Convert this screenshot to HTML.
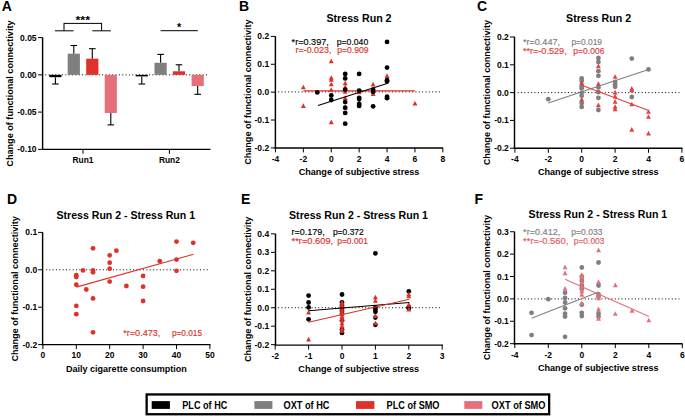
<!DOCTYPE html>
<html><head><meta charset="utf-8"><title>Figure</title>
<style>
html,body{margin:0;padding:0;background:#fff;}
body{width:685px;height:417px;overflow:hidden;font-family:"Liberation Sans", sans-serif;}
svg{display:block;}
text{font-family:"Liberation Sans", sans-serif;}
</style></head><body>
<svg width="685" height="417" viewBox="0 0 685 417">
<rect width="685" height="417" fill="#fff"/>
<g font-family="Liberation Sans, sans-serif">
<text x="1.8" y="10.8" font-size="14" font-weight="bold" text-anchor="start" fill="#000" >A</text>
<text x="239" y="10.8" font-size="14" font-weight="bold" text-anchor="start" fill="#000" >B</text>
<text x="476.9" y="10.8" font-size="14" font-weight="bold" text-anchor="start" fill="#000" >C</text>
<text x="6.9" y="204" font-size="14" font-weight="bold" text-anchor="start" fill="#000" >D</text>
<text x="241" y="204" font-size="14" font-weight="bold" text-anchor="start" fill="#000" >E</text>
<text x="474.5" y="204.3" font-size="14" font-weight="bold" text-anchor="start" fill="#000" >F</text>
<line x1="42.6" y1="37.47" x2="42.6" y2="150.07" stroke="#000" stroke-width="1.45" />
<line x1="38.1" y1="37.6" x2="42.6" y2="37.6" stroke="#000" stroke-width="1.0" />
<text x="36.6" y="40.6" font-size="8.5" font-weight="bold" text-anchor="end" fill="#000" >0.05</text>
<line x1="38.1" y1="74.85" x2="42.6" y2="74.85" stroke="#000" stroke-width="1.0" />
<text x="36.6" y="77.85" font-size="8.5" font-weight="bold" text-anchor="end" fill="#000" >0.00</text>
<line x1="38.1" y1="112.1" x2="42.6" y2="112.1" stroke="#000" stroke-width="1.0" />
<text x="36.6" y="115.1" font-size="8.5" font-weight="bold" text-anchor="end" fill="#000" >-0.05</text>
<line x1="38.1" y1="149.35" x2="42.6" y2="149.35" stroke="#000" stroke-width="1.0" />
<text x="36.6" y="152.35" font-size="8.5" font-weight="bold" text-anchor="end" fill="#000" >-0.10</text>
<line x1="41.88" y1="149.35" x2="210.5" y2="149.35" stroke="#000" stroke-width="1.45" />
<line x1="83" y1="149.35" x2="83" y2="153.85" stroke="#000" stroke-width="1.0" />
<line x1="169.4" y1="149.35" x2="169.4" y2="153.85" stroke="#000" stroke-width="1.0" />
<text x="83" y="163" font-size="8.4" font-weight="bold" text-anchor="middle" fill="#000" >Run1</text>
<text x="169.4" y="163" font-size="8.4" font-weight="bold" text-anchor="middle" fill="#000" >Run2</text>
<text transform="translate(12.5,93.6) rotate(-90)" x="0" y="0" font-size="9" font-weight="bold" text-anchor="middle" textLength="146.2" lengthAdjust="spacingAndGlyphs">Change of functional connectivity</text>
<line x1="45.2" y1="74.85" x2="207.5" y2="74.85" stroke="#000" stroke-width="1" stroke-dasharray="1 2.35"/>
<rect x="49.3" y="74.85" width="12.2" height="2.35" fill="#000"/>
<line x1="55.4" y1="77.2" x2="55.4" y2="84" stroke="#000" stroke-width="1.1" />
<line x1="52.1" y1="84" x2="58.7" y2="84" stroke="#000" stroke-width="1.1" />
<rect x="67.7" y="53.7" width="12.2" height="21.15" fill="#7f7f7f"/>
<line x1="73.8" y1="53.7" x2="73.8" y2="45.5" stroke="#000" stroke-width="1.1" />
<line x1="70.5" y1="45.5" x2="77.1" y2="45.5" stroke="#000" stroke-width="1.1" />
<rect x="86.2" y="58.7" width="12.2" height="16.15" fill="#de3129"/>
<line x1="92.3" y1="58.7" x2="92.3" y2="48.7" stroke="#000" stroke-width="1.1" />
<line x1="89" y1="48.7" x2="95.6" y2="48.7" stroke="#000" stroke-width="1.1" />
<rect x="104.7" y="74.85" width="12.2" height="38.15" fill="#e4707a"/>
<line x1="110.8" y1="113" x2="110.8" y2="124.9" stroke="#000" stroke-width="1.1" />
<line x1="107.5" y1="124.9" x2="114.1" y2="124.9" stroke="#000" stroke-width="1.1" />
<rect x="135.7" y="74.85" width="12.2" height="1.55" fill="#000"/>
<line x1="141.8" y1="76.4" x2="141.8" y2="84" stroke="#000" stroke-width="1.1" />
<line x1="138.5" y1="84" x2="145.1" y2="84" stroke="#000" stroke-width="1.1" />
<rect x="154.5" y="62.8" width="12.2" height="12.05" fill="#7f7f7f"/>
<line x1="160.6" y1="62.8" x2="160.6" y2="54.4" stroke="#000" stroke-width="1.1" />
<line x1="157.3" y1="54.4" x2="163.9" y2="54.4" stroke="#000" stroke-width="1.1" />
<rect x="172.9" y="71.3" width="12.2" height="3.55" fill="#de3129"/>
<line x1="179" y1="71.3" x2="179" y2="64.8" stroke="#000" stroke-width="1.1" />
<line x1="175.7" y1="64.8" x2="182.3" y2="64.8" stroke="#000" stroke-width="1.1" />
<rect x="191.6" y="74.85" width="12.2" height="11.15" fill="#e4707a"/>
<line x1="197.7" y1="86" x2="197.7" y2="94.3" stroke="#000" stroke-width="1.1" />
<line x1="194.4" y1="94.3" x2="201" y2="94.3" stroke="#000" stroke-width="1.1" />
<line x1="64" y1="23.4" x2="101.6" y2="23.4" stroke="#000" stroke-width="1.0" />
<line x1="64" y1="22.9" x2="64" y2="30.8" stroke="#000" stroke-width="1.0" />
<line x1="101.6" y1="22.9" x2="101.6" y2="30.8" stroke="#000" stroke-width="1.0" />
<line x1="54.9" y1="30.8" x2="73.6" y2="30.8" stroke="#000" stroke-width="1.0" />
<line x1="92.3" y1="30.8" x2="110.8" y2="30.8" stroke="#000" stroke-width="1.0" />
<text x="82.8" y="24.4" font-size="11" font-weight="bold" text-anchor="middle" fill="#000" textLength="14.6" lengthAdjust="spacingAndGlyphs" >***</text>
<line x1="160.6" y1="30.7" x2="197.8" y2="30.7" stroke="#000" stroke-width="1.0" />
<text x="179.2" y="31" font-size="11" font-weight="bold" text-anchor="middle" fill="#000" >*</text>
<line x1="278.1" y1="91.9" x2="440.3" y2="91.9" stroke="#000" stroke-width="1" stroke-dasharray="1 2.35"/>
<line x1="275.4" y1="36.28" x2="275.4" y2="148.62" stroke="#000" stroke-width="1.45" />
<line x1="270.9" y1="36.4" x2="275.4" y2="36.4" stroke="#000" stroke-width="1.0" />
<text x="269.2" y="39.4" font-size="8.5" font-weight="bold" text-anchor="end" fill="#000" >0.2</text>
<line x1="270.9" y1="64.28" x2="275.4" y2="64.28" stroke="#000" stroke-width="1.0" />
<text x="269.2" y="67.28" font-size="8.5" font-weight="bold" text-anchor="end" fill="#000" >0.1</text>
<line x1="270.9" y1="92.15" x2="275.4" y2="92.15" stroke="#000" stroke-width="1.0" />
<text x="269.2" y="95.15" font-size="8.5" font-weight="bold" text-anchor="end" fill="#000" >0.0</text>
<line x1="270.9" y1="120.03" x2="275.4" y2="120.03" stroke="#000" stroke-width="1.0" />
<text x="269.2" y="123.03" font-size="8.5" font-weight="bold" text-anchor="end" fill="#000" >-0.1</text>
<line x1="270.9" y1="147.9" x2="275.4" y2="147.9" stroke="#000" stroke-width="1.0" />
<text x="269.2" y="150.9" font-size="8.5" font-weight="bold" text-anchor="end" fill="#000" >-0.2</text>
<line x1="274.67" y1="147.9" x2="443" y2="147.9" stroke="#000" stroke-width="1.45" />
<line x1="275.45" y1="147.9" x2="275.45" y2="152.4" stroke="#000" stroke-width="1.0" />
<text x="275.45" y="162.4" font-size="8.5" font-weight="bold" text-anchor="middle" fill="#000" >-4</text>
<line x1="303.35" y1="147.9" x2="303.35" y2="152.4" stroke="#000" stroke-width="1.0" />
<text x="303.35" y="162.4" font-size="8.5" font-weight="bold" text-anchor="middle" fill="#000" >-2</text>
<line x1="331.25" y1="147.9" x2="331.25" y2="152.4" stroke="#000" stroke-width="1.0" />
<text x="331.25" y="162.4" font-size="8.5" font-weight="bold" text-anchor="middle" fill="#000" >0</text>
<line x1="359.15" y1="147.9" x2="359.15" y2="152.4" stroke="#000" stroke-width="1.0" />
<text x="359.15" y="162.4" font-size="8.5" font-weight="bold" text-anchor="middle" fill="#000" >2</text>
<line x1="387.05" y1="147.9" x2="387.05" y2="152.4" stroke="#000" stroke-width="1.0" />
<text x="387.05" y="162.4" font-size="8.5" font-weight="bold" text-anchor="middle" fill="#000" >4</text>
<line x1="414.95" y1="147.9" x2="414.95" y2="152.4" stroke="#000" stroke-width="1.0" />
<text x="414.95" y="162.4" font-size="8.5" font-weight="bold" text-anchor="middle" fill="#000" >6</text>
<line x1="442.85" y1="147.9" x2="442.85" y2="152.4" stroke="#000" stroke-width="1.0" />
<text x="442.85" y="162.4" font-size="8.5" font-weight="bold" text-anchor="middle" fill="#000" >8</text>
<text transform="translate(250.9,92.1) rotate(-90)" x="0" y="0" font-size="9" font-weight="bold" text-anchor="middle" textLength="145.4" lengthAdjust="spacingAndGlyphs">Change of functional connectivity</text>
<text x="359" y="175.3" font-size="9.3" font-weight="bold" text-anchor="middle" fill="#000" textLength="120.7" lengthAdjust="spacingAndGlyphs" >Change of subjective stress</text>
<text x="359" y="22" font-size="10.5" font-weight="bold" text-anchor="middle" fill="#000" textLength="65.1" lengthAdjust="spacingAndGlyphs" >Stress Run 2</text>
<text x="291.6" y="44.5" font-size="8.2" font-weight="normal" text-anchor="start" fill="#000" textLength="37.2" lengthAdjust="spacingAndGlyphs"  stroke="#000" stroke-width="0.15">*r=0.397,</text>
<text x="336.8" y="44.5" font-size="8.2" font-weight="normal" text-anchor="start" fill="#000" textLength="31.4" lengthAdjust="spacingAndGlyphs"  stroke="#000" stroke-width="0.15">p=0.040</text>
<text x="295.5" y="53.4" font-size="8.2" font-weight="normal" text-anchor="start" fill="#de3129" textLength="35.9" lengthAdjust="spacingAndGlyphs"  stroke="#de3129" stroke-width="0.15">r=-0.023,</text>
<text x="337.3" y="53.4" font-size="8.2" font-weight="normal" text-anchor="start" fill="#de3129" textLength="31.2" lengthAdjust="spacingAndGlyphs"  stroke="#de3129" stroke-width="0.15">p=0.909</text>
<line x1="303.35" y1="90.9" x2="414.95" y2="90.9" stroke="#de3129" stroke-width="1.1" />
<path d="M300.9 89.35L303.35 84.65L305.8 89.35Z" fill="#de3129"/>
<path d="M300.9 108.05L303.35 103.35L305.8 108.05Z" fill="#de3129"/>
<path d="M328.8 63.15L331.25 58.45L333.7 63.15Z" fill="#de3129"/>
<path d="M328.8 79.85L331.25 75.15L333.7 79.85Z" fill="#de3129"/>
<path d="M328.8 81.65L331.25 76.95L333.7 81.65Z" fill="#de3129"/>
<path d="M328.8 86.15L331.25 81.45L333.7 86.15Z" fill="#de3129"/>
<path d="M328.8 91.85L331.25 87.15L333.7 91.85Z" fill="#de3129"/>
<path d="M328.8 124.25L331.25 119.55L333.7 124.25Z" fill="#de3129"/>
<path d="M342.75 85.25L345.2 80.55L347.65 85.25Z" fill="#de3129"/>
<path d="M342.75 89.15L345.2 84.45L347.65 89.15Z" fill="#de3129"/>
<path d="M342.75 99.95L345.2 95.25L347.65 99.95Z" fill="#de3129"/>
<path d="M342.75 109.55L345.2 104.85L347.65 109.55Z" fill="#de3129"/>
<path d="M356.7 94.25L359.15 89.55L361.6 94.25Z" fill="#de3129"/>
<path d="M356.7 104.45L359.15 99.75L361.6 104.45Z" fill="#de3129"/>
<path d="M370.65 86.45L373.1 81.75L375.55 86.45Z" fill="#de3129"/>
<path d="M370.65 96.05L373.1 91.35L375.55 96.05Z" fill="#de3129"/>
<path d="M384.6 78.05L387.05 73.35L389.5 78.05Z" fill="#de3129"/>
<path d="M412.5 105.55L414.95 100.85L417.4 105.55Z" fill="#de3129"/>
<path d="M342.75 93.85L345.2 89.15L347.65 93.85Z" fill="#de3129"/>
<circle cx="317.3" cy="92.4" r="2.4" fill="#000"/>
<circle cx="331.25" cy="95.5" r="2.4" fill="#000"/>
<circle cx="331.25" cy="100" r="2.4" fill="#000"/>
<circle cx="345.2" cy="73.9" r="2.4" fill="#000"/>
<circle cx="345.2" cy="78.4" r="2.4" fill="#000"/>
<circle cx="345.2" cy="89.7" r="2.4" fill="#000"/>
<circle cx="345.2" cy="102.1" r="2.4" fill="#000"/>
<circle cx="345.2" cy="107.7" r="2.4" fill="#000"/>
<circle cx="345.2" cy="112.9" r="2.4" fill="#000"/>
<circle cx="345.2" cy="123.7" r="2.4" fill="#000"/>
<circle cx="359.15" cy="73.9" r="2.4" fill="#000"/>
<circle cx="359.15" cy="90.6" r="2.4" fill="#000"/>
<circle cx="359.15" cy="97.8" r="2.4" fill="#000"/>
<circle cx="359.15" cy="99" r="2.4" fill="#000"/>
<circle cx="359.15" cy="103.9" r="2.4" fill="#000"/>
<circle cx="359.15" cy="105.9" r="2.4" fill="#000"/>
<circle cx="373.1" cy="89.7" r="2.4" fill="#000"/>
<circle cx="373.1" cy="91.9" r="2.4" fill="#000"/>
<circle cx="373.1" cy="106.3" r="2.4" fill="#000"/>
<circle cx="387.05" cy="41.9" r="2.4" fill="#000"/>
<circle cx="387.05" cy="67.6" r="2.4" fill="#000"/>
<circle cx="387.05" cy="80.2" r="2.4" fill="#000"/>
<circle cx="387.05" cy="81.6" r="2.4" fill="#000"/>
<circle cx="387.05" cy="96.7" r="2.4" fill="#000"/>
<circle cx="387.05" cy="98.2" r="2.4" fill="#000"/>
<line x1="318" y1="105.4" x2="387.1" y2="83.4" stroke="#000" stroke-width="1.1" />
<line x1="517.7" y1="92.6" x2="679.4" y2="92.6" stroke="#000" stroke-width="1" stroke-dasharray="1 2.35"/>
<line x1="514.5" y1="36.85" x2="514.5" y2="148.94" stroke="#000" stroke-width="1.45" />
<line x1="510" y1="36.98" x2="514.5" y2="36.98" stroke="#000" stroke-width="1.0" />
<text x="508.8" y="39.98" font-size="8.5" font-weight="bold" text-anchor="end" fill="#000" >0.2</text>
<line x1="510" y1="64.79" x2="514.5" y2="64.79" stroke="#000" stroke-width="1.0" />
<text x="508.8" y="67.79" font-size="8.5" font-weight="bold" text-anchor="end" fill="#000" >0.1</text>
<line x1="510" y1="92.6" x2="514.5" y2="92.6" stroke="#000" stroke-width="1.0" />
<text x="508.8" y="95.6" font-size="8.5" font-weight="bold" text-anchor="end" fill="#000" >0.0</text>
<line x1="510" y1="120.41" x2="514.5" y2="120.41" stroke="#000" stroke-width="1.0" />
<text x="508.8" y="123.41" font-size="8.5" font-weight="bold" text-anchor="end" fill="#000" >-0.1</text>
<line x1="510" y1="148.22" x2="514.5" y2="148.22" stroke="#000" stroke-width="1.0" />
<text x="508.8" y="151.22" font-size="8.5" font-weight="bold" text-anchor="end" fill="#000" >-0.2</text>
<line x1="513.77" y1="148.22" x2="682.5" y2="148.22" stroke="#000" stroke-width="1.45" />
<line x1="514.9" y1="148.22" x2="514.9" y2="152.72" stroke="#000" stroke-width="1.0" />
<text x="514.9" y="162.4" font-size="8.5" font-weight="bold" text-anchor="middle" fill="#000" >-4</text>
<line x1="548.3" y1="148.22" x2="548.3" y2="152.72" stroke="#000" stroke-width="1.0" />
<text x="548.3" y="162.4" font-size="8.5" font-weight="bold" text-anchor="middle" fill="#000" >-2</text>
<line x1="581.7" y1="148.22" x2="581.7" y2="152.72" stroke="#000" stroke-width="1.0" />
<text x="581.7" y="162.4" font-size="8.5" font-weight="bold" text-anchor="middle" fill="#000" >0</text>
<line x1="615.1" y1="148.22" x2="615.1" y2="152.72" stroke="#000" stroke-width="1.0" />
<text x="615.1" y="162.4" font-size="8.5" font-weight="bold" text-anchor="middle" fill="#000" >2</text>
<line x1="648.5" y1="148.22" x2="648.5" y2="152.72" stroke="#000" stroke-width="1.0" />
<text x="648.5" y="162.4" font-size="8.5" font-weight="bold" text-anchor="middle" fill="#000" >4</text>
<line x1="681.9" y1="148.22" x2="681.9" y2="152.72" stroke="#000" stroke-width="1.0" />
<text x="681.9" y="162.4" font-size="8.5" font-weight="bold" text-anchor="middle" fill="#000" >6</text>
<text transform="translate(489.9,92.6) rotate(-90)" x="0" y="0" font-size="9" font-weight="bold" text-anchor="middle" textLength="145.4" lengthAdjust="spacingAndGlyphs">Change of functional connectivity</text>
<text x="598.3" y="175.4" font-size="9.3" font-weight="bold" text-anchor="middle" fill="#000" textLength="120.7" lengthAdjust="spacingAndGlyphs" >Change of subjective stress</text>
<text x="598.6" y="22" font-size="10.5" font-weight="bold" text-anchor="middle" fill="#000" textLength="65.1" lengthAdjust="spacingAndGlyphs" >Stress Run 2</text>
<text x="522.9" y="44.8" font-size="8.2" font-weight="normal" text-anchor="start" fill="#7f7f7f" textLength="37.2" lengthAdjust="spacingAndGlyphs"  stroke="#7f7f7f" stroke-width="0.15">*r=0.447,</text>
<text x="571.4" y="44.8" font-size="8.2" font-weight="normal" text-anchor="start" fill="#7f7f7f" textLength="30.6" lengthAdjust="spacingAndGlyphs"  stroke="#7f7f7f" stroke-width="0.15">p=0.019</text>
<text x="522.9" y="53.9" font-size="8.2" font-weight="normal" text-anchor="start" fill="#e0403e" textLength="43.8" lengthAdjust="spacingAndGlyphs"  stroke="#e0403e" stroke-width="0.15">**r=-0.529,</text>
<text x="573.3" y="53.9" font-size="8.2" font-weight="normal" text-anchor="start" fill="#e0403e" textLength="31.1" lengthAdjust="spacingAndGlyphs"  stroke="#e0403e" stroke-width="0.15">p=0.006</text>
<circle cx="548.3" cy="99.2" r="2.4" fill="#7f7f7f"/>
<circle cx="581.7" cy="78.5" r="2.4" fill="#7f7f7f"/>
<circle cx="581.7" cy="81" r="2.4" fill="#7f7f7f"/>
<circle cx="581.7" cy="86.2" r="2.4" fill="#7f7f7f"/>
<circle cx="581.7" cy="88.2" r="2.4" fill="#7f7f7f"/>
<circle cx="581.7" cy="92.6" r="2.4" fill="#7f7f7f"/>
<circle cx="581.7" cy="95.8" r="2.4" fill="#7f7f7f"/>
<circle cx="581.7" cy="103" r="2.4" fill="#7f7f7f"/>
<circle cx="581.7" cy="106.9" r="2.4" fill="#7f7f7f"/>
<circle cx="598.4" cy="58" r="2.4" fill="#7f7f7f"/>
<circle cx="598.4" cy="62" r="2.4" fill="#7f7f7f"/>
<circle cx="598.4" cy="71.2" r="2.4" fill="#7f7f7f"/>
<circle cx="598.4" cy="75.8" r="2.4" fill="#7f7f7f"/>
<circle cx="598.4" cy="87.4" r="2.4" fill="#7f7f7f"/>
<circle cx="598.4" cy="92.2" r="2.4" fill="#7f7f7f"/>
<circle cx="598.4" cy="97.8" r="2.4" fill="#7f7f7f"/>
<circle cx="598.4" cy="110" r="2.4" fill="#7f7f7f"/>
<circle cx="615.1" cy="81.8" r="2.4" fill="#7f7f7f"/>
<circle cx="615.1" cy="84.3" r="2.4" fill="#7f7f7f"/>
<circle cx="615.1" cy="86.8" r="2.4" fill="#7f7f7f"/>
<circle cx="631.8" cy="58.6" r="2.4" fill="#7f7f7f"/>
<circle cx="631.8" cy="97" r="2.4" fill="#7f7f7f"/>
<circle cx="648.5" cy="69.4" r="2.4" fill="#7f7f7f"/>
<path d="M579.25 85.05L581.7 80.35L584.15 85.05Z" fill="#e0403e"/>
<path d="M579.25 101.45L581.7 96.75L584.15 101.45Z" fill="#e0403e"/>
<path d="M595.95 68.15L598.4 63.45L600.85 68.15Z" fill="#e0403e"/>
<path d="M595.95 85.85L598.4 81.15L600.85 85.85Z" fill="#e0403e"/>
<path d="M595.95 107.15L598.4 102.45L600.85 107.15Z" fill="#e0403e"/>
<path d="M612.65 78.85L615.1 74.15L617.55 78.85Z" fill="#e0403e"/>
<path d="M612.65 94.45L615.1 89.75L617.55 94.45Z" fill="#e0403e"/>
<path d="M612.65 98.55L615.1 93.85L617.55 98.55Z" fill="#e0403e"/>
<path d="M612.65 103.75L615.1 99.05L617.55 103.75Z" fill="#e0403e"/>
<path d="M612.65 108.85L615.1 104.15L617.55 108.85Z" fill="#e0403e"/>
<path d="M612.65 111.25L615.1 106.55L617.55 111.25Z" fill="#e0403e"/>
<path d="M629.35 90.75L631.8 86.05L634.25 90.75Z" fill="#e0403e"/>
<path d="M629.35 92.25L631.8 87.55L634.25 92.25Z" fill="#e0403e"/>
<path d="M629.35 106.35L631.8 101.65L634.25 106.35Z" fill="#e0403e"/>
<path d="M629.35 131.75L631.8 127.05L634.25 131.75Z" fill="#e0403e"/>
<path d="M646.05 113.85L648.5 109.15L650.95 113.85Z" fill="#e0403e"/>
<path d="M646.05 118.85L648.5 114.15L650.95 118.85Z" fill="#e0403e"/>
<path d="M646.05 135.45L648.5 130.75L650.95 135.45Z" fill="#e0403e"/>
<line x1="548.2" y1="102.9" x2="648.6" y2="69.4" stroke="#7f7f7f" stroke-width="1.1" />
<line x1="581.7" y1="85.2" x2="648.6" y2="110.4" stroke="#e0403e" stroke-width="1.1" />
<line x1="45.9" y1="269.8" x2="207.8" y2="269.8" stroke="#000" stroke-width="1" stroke-dasharray="1 2.35"/>
<line x1="42.6" y1="232.28" x2="42.6" y2="345.33" stroke="#000" stroke-width="1.45" />
<line x1="38.1" y1="232.4" x2="42.6" y2="232.4" stroke="#000" stroke-width="1.0" />
<text x="37.2" y="235.4" font-size="8.5" font-weight="bold" text-anchor="end" fill="#000" >0.1</text>
<line x1="38.1" y1="269.8" x2="42.6" y2="269.8" stroke="#000" stroke-width="1.0" />
<text x="37.2" y="272.8" font-size="8.5" font-weight="bold" text-anchor="end" fill="#000" >0.0</text>
<line x1="38.1" y1="307.2" x2="42.6" y2="307.2" stroke="#000" stroke-width="1.0" />
<text x="37.2" y="310.2" font-size="8.5" font-weight="bold" text-anchor="end" fill="#000" >-0.1</text>
<line x1="38.1" y1="344.6" x2="42.6" y2="344.6" stroke="#000" stroke-width="1.0" />
<text x="37.2" y="347.6" font-size="8.5" font-weight="bold" text-anchor="end" fill="#000" >-0.2</text>
<line x1="41.88" y1="344.6" x2="210.5" y2="344.6" stroke="#000" stroke-width="1.45" />
<line x1="42.9" y1="344.6" x2="42.9" y2="349.1" stroke="#000" stroke-width="1.0" />
<text x="42.9" y="358.4" font-size="8.5" font-weight="bold" text-anchor="middle" fill="#000" >0</text>
<line x1="76.3" y1="344.6" x2="76.3" y2="349.1" stroke="#000" stroke-width="1.0" />
<text x="76.3" y="358.4" font-size="8.5" font-weight="bold" text-anchor="middle" fill="#000" >10</text>
<line x1="109.7" y1="344.6" x2="109.7" y2="349.1" stroke="#000" stroke-width="1.0" />
<text x="109.7" y="358.4" font-size="8.5" font-weight="bold" text-anchor="middle" fill="#000" >20</text>
<line x1="143.1" y1="344.6" x2="143.1" y2="349.1" stroke="#000" stroke-width="1.0" />
<text x="143.1" y="358.4" font-size="8.5" font-weight="bold" text-anchor="middle" fill="#000" >30</text>
<line x1="176.5" y1="344.6" x2="176.5" y2="349.1" stroke="#000" stroke-width="1.0" />
<text x="176.5" y="358.4" font-size="8.5" font-weight="bold" text-anchor="middle" fill="#000" >40</text>
<line x1="209.9" y1="344.6" x2="209.9" y2="349.1" stroke="#000" stroke-width="1.0" />
<text x="209.9" y="358.4" font-size="8.5" font-weight="bold" text-anchor="middle" fill="#000" >50</text>
<text transform="translate(18.3,288.9) rotate(-90)" x="0" y="0" font-size="9" font-weight="bold" text-anchor="middle" textLength="145.4" lengthAdjust="spacingAndGlyphs">Change of functional connectivity</text>
<text x="126.4" y="371.7" font-size="9.3" font-weight="bold" text-anchor="middle" fill="#000" textLength="120.8" lengthAdjust="spacingAndGlyphs" >Daily cigarette consumption</text>
<text x="125.8" y="218.6" font-size="10.5" font-weight="bold" text-anchor="middle" fill="#000" textLength="138.6" lengthAdjust="spacingAndGlyphs" >Stress Run 2 - Stress Run 1</text>
<text x="123.3" y="335.8" font-size="8.6" font-weight="normal" text-anchor="start" fill="#de3129" textLength="37" lengthAdjust="spacingAndGlyphs"  stroke="#de3129" stroke-width="0.15">*r=0.473,</text>
<text x="171.9" y="335.8" font-size="8.6" font-weight="normal" text-anchor="start" fill="#de3129" textLength="30.2" lengthAdjust="spacingAndGlyphs"  stroke="#de3129" stroke-width="0.15">p=0.015</text>
<circle cx="76.3" cy="275.2" r="2.4" fill="#de3129"/>
<circle cx="76.3" cy="277.1" r="2.4" fill="#de3129"/>
<circle cx="76.3" cy="284.7" r="2.4" fill="#de3129"/>
<circle cx="76.3" cy="305.9" r="2.4" fill="#de3129"/>
<circle cx="76.3" cy="314.2" r="2.4" fill="#de3129"/>
<circle cx="82.98" cy="270.4" r="2.4" fill="#de3129"/>
<circle cx="86.32" cy="289.5" r="2.4" fill="#de3129"/>
<circle cx="93" cy="248.3" r="2.4" fill="#de3129"/>
<circle cx="93" cy="270.4" r="2.4" fill="#de3129"/>
<circle cx="93" cy="272.3" r="2.4" fill="#de3129"/>
<circle cx="93" cy="298.4" r="2.4" fill="#de3129"/>
<circle cx="93" cy="332.3" r="2.4" fill="#de3129"/>
<circle cx="109.7" cy="255.3" r="2.4" fill="#de3129"/>
<circle cx="109.7" cy="262.7" r="2.4" fill="#de3129"/>
<circle cx="109.7" cy="268.7" r="2.4" fill="#de3129"/>
<circle cx="109.7" cy="281.6" r="2.4" fill="#de3129"/>
<circle cx="116.38" cy="250.7" r="2.4" fill="#de3129"/>
<circle cx="126.4" cy="286" r="2.4" fill="#de3129"/>
<circle cx="143.1" cy="275.9" r="2.4" fill="#de3129"/>
<circle cx="143.1" cy="286.7" r="2.4" fill="#de3129"/>
<circle cx="143.1" cy="301" r="2.4" fill="#de3129"/>
<circle cx="159.8" cy="261.2" r="2.4" fill="#de3129"/>
<circle cx="176.5" cy="241.6" r="2.4" fill="#de3129"/>
<circle cx="176.5" cy="259.6" r="2.4" fill="#de3129"/>
<circle cx="176.5" cy="270.8" r="2.4" fill="#de3129"/>
<circle cx="193.2" cy="242.8" r="2.4" fill="#de3129"/>
<line x1="76.3" y1="287.1" x2="193.6" y2="254.3" stroke="#de3129" stroke-width="1.1" />
<line x1="278.1" y1="307.74" x2="440.3" y2="307.74" stroke="#000" stroke-width="1" stroke-dasharray="1 2.35"/>
<line x1="275.5" y1="233.75" x2="275.5" y2="345.4" stroke="#000" stroke-width="1.45" />
<line x1="271" y1="233.87" x2="275.5" y2="233.87" stroke="#000" stroke-width="1.0" />
<text x="269.2" y="236.87" font-size="8.5" font-weight="bold" text-anchor="end" fill="#000" >0.4</text>
<line x1="271" y1="252.34" x2="275.5" y2="252.34" stroke="#000" stroke-width="1.0" />
<text x="269.2" y="255.34" font-size="8.5" font-weight="bold" text-anchor="end" fill="#000" >0.3</text>
<line x1="271" y1="270.81" x2="275.5" y2="270.81" stroke="#000" stroke-width="1.0" />
<text x="269.2" y="273.81" font-size="8.5" font-weight="bold" text-anchor="end" fill="#000" >0.2</text>
<line x1="271" y1="289.27" x2="275.5" y2="289.27" stroke="#000" stroke-width="1.0" />
<text x="269.2" y="292.27" font-size="8.5" font-weight="bold" text-anchor="end" fill="#000" >0.1</text>
<line x1="271" y1="307.74" x2="275.5" y2="307.74" stroke="#000" stroke-width="1.0" />
<text x="269.2" y="310.74" font-size="8.5" font-weight="bold" text-anchor="end" fill="#000" >0.0</text>
<line x1="271" y1="326.21" x2="275.5" y2="326.21" stroke="#000" stroke-width="1.0" />
<text x="269.2" y="329.21" font-size="8.5" font-weight="bold" text-anchor="end" fill="#000" >-0.1</text>
<line x1="271" y1="344.67" x2="275.5" y2="344.67" stroke="#000" stroke-width="1.0" />
<text x="269.2" y="347.67" font-size="8.5" font-weight="bold" text-anchor="end" fill="#000" >-0.2</text>
<line x1="274.77" y1="345.1" x2="443" y2="345.1" stroke="#000" stroke-width="1.45" />
<line x1="275.2" y1="345.1" x2="275.2" y2="349.6" stroke="#000" stroke-width="1.0" />
<text x="275.2" y="359.3" font-size="8.5" font-weight="bold" text-anchor="middle" fill="#000" >-2</text>
<line x1="308.6" y1="345.1" x2="308.6" y2="349.6" stroke="#000" stroke-width="1.0" />
<text x="308.6" y="359.3" font-size="8.5" font-weight="bold" text-anchor="middle" fill="#000" >-1</text>
<line x1="342" y1="345.1" x2="342" y2="349.6" stroke="#000" stroke-width="1.0" />
<text x="342" y="359.3" font-size="8.5" font-weight="bold" text-anchor="middle" fill="#000" >0</text>
<line x1="375.4" y1="345.1" x2="375.4" y2="349.6" stroke="#000" stroke-width="1.0" />
<text x="375.4" y="359.3" font-size="8.5" font-weight="bold" text-anchor="middle" fill="#000" >1</text>
<line x1="408.8" y1="345.1" x2="408.8" y2="349.6" stroke="#000" stroke-width="1.0" />
<text x="408.8" y="359.3" font-size="8.5" font-weight="bold" text-anchor="middle" fill="#000" >2</text>
<line x1="442.2" y1="345.1" x2="442.2" y2="349.6" stroke="#000" stroke-width="1.0" />
<text x="442.2" y="359.3" font-size="8.5" font-weight="bold" text-anchor="middle" fill="#000" >3</text>
<text transform="translate(251.1,289.3) rotate(-90)" x="0" y="0" font-size="9" font-weight="bold" text-anchor="middle" textLength="145.4" lengthAdjust="spacingAndGlyphs">Change of functional connectivity</text>
<text x="358.7" y="372.4" font-size="9.3" font-weight="bold" text-anchor="middle" fill="#000" textLength="120.7" lengthAdjust="spacingAndGlyphs" >Change of subjective stress</text>
<text x="358.5" y="219" font-size="10.5" font-weight="bold" text-anchor="middle" fill="#000" textLength="138.9" lengthAdjust="spacingAndGlyphs" >Stress Run 2 - Stress Run 1</text>
<text x="291.6" y="234.6" font-size="8.2" font-weight="normal" text-anchor="start" fill="#000" textLength="33.1" lengthAdjust="spacingAndGlyphs"  stroke="#000" stroke-width="0.15">r=0.179,</text>
<text x="332.9" y="234.6" font-size="8.2" font-weight="normal" text-anchor="start" fill="#000" textLength="30.9" lengthAdjust="spacingAndGlyphs"  stroke="#000" stroke-width="0.15">p=0.372</text>
<text x="291.6" y="243.9" font-size="8.2" font-weight="normal" text-anchor="start" fill="#de3129" textLength="41.6" lengthAdjust="spacingAndGlyphs"  stroke="#de3129" stroke-width="0.15">**r=0.609,</text>
<text x="337.3" y="243.9" font-size="8.2" font-weight="normal" text-anchor="start" fill="#de3129" textLength="30.6" lengthAdjust="spacingAndGlyphs"  stroke="#de3129" stroke-width="0.15">p=0.001</text>
<circle cx="308.6" cy="295.6" r="2.4" fill="#000"/>
<circle cx="308.6" cy="302.5" r="2.4" fill="#000"/>
<circle cx="308.6" cy="307.4" r="2.4" fill="#000"/>
<circle cx="308.6" cy="319.3" r="2.4" fill="#000"/>
<circle cx="342" cy="294.5" r="2.4" fill="#000"/>
<circle cx="342" cy="302.4" r="2.4" fill="#000"/>
<circle cx="342" cy="305.7" r="2.4" fill="#000"/>
<circle cx="342" cy="307.9" r="2.4" fill="#000"/>
<circle cx="342" cy="310.7" r="2.4" fill="#000"/>
<circle cx="342" cy="313.7" r="2.4" fill="#000"/>
<circle cx="342" cy="320.5" r="2.4" fill="#000"/>
<circle cx="342" cy="329.5" r="2.4" fill="#000"/>
<circle cx="342" cy="332.9" r="2.4" fill="#000"/>
<circle cx="375.4" cy="253.3" r="2.4" fill="#000"/>
<circle cx="375.4" cy="307.3" r="2.4" fill="#000"/>
<circle cx="375.4" cy="309.5" r="2.4" fill="#000"/>
<circle cx="375.4" cy="311.8" r="2.4" fill="#000"/>
<circle cx="375.4" cy="317.6" r="2.4" fill="#000"/>
<circle cx="375.4" cy="324.8" r="2.4" fill="#000"/>
<circle cx="408.8" cy="291.3" r="2.4" fill="#000"/>
<circle cx="408.8" cy="307.2" r="2.4" fill="#000"/>
<circle cx="408.8" cy="308.4" r="2.4" fill="#000"/>
<path d="M306.15 314.55L308.6 309.85L311.05 314.55Z" fill="#de3129"/>
<path d="M306.15 341.55L308.6 336.85L311.05 341.55Z" fill="#de3129"/>
<path d="M339.55 304.75L342 300.05L344.45 304.75Z" fill="#de3129"/>
<path d="M339.55 307.25L342 302.55L344.45 307.25Z" fill="#de3129"/>
<path d="M339.55 309.55L342 304.85L344.45 309.55Z" fill="#de3129"/>
<path d="M339.55 311.85L342 307.15L344.45 311.85Z" fill="#de3129"/>
<path d="M339.55 313.95L342 309.25L344.45 313.95Z" fill="#de3129"/>
<path d="M339.55 316.05L342 311.35L344.45 316.05Z" fill="#de3129"/>
<path d="M339.55 318.15L342 313.45L344.45 318.15Z" fill="#de3129"/>
<path d="M339.55 320.25L342 315.55L344.45 320.25Z" fill="#de3129"/>
<path d="M339.55 321.95L342 317.25L344.45 321.95Z" fill="#de3129"/>
<path d="M339.55 325.35L342 320.65L344.45 325.35Z" fill="#de3129"/>
<path d="M339.55 327.95L342 323.25L344.45 327.95Z" fill="#de3129"/>
<path d="M339.55 330.55L342 325.85L344.45 330.55Z" fill="#de3129"/>
<path d="M339.55 332.75L342 328.05L344.45 332.75Z" fill="#de3129"/>
<path d="M372.95 299.35L375.4 294.65L377.85 299.35Z" fill="#de3129"/>
<path d="M372.95 302.65L375.4 297.95L377.85 302.65Z" fill="#de3129"/>
<path d="M372.95 317.95L375.4 313.25L377.85 317.95Z" fill="#de3129"/>
<path d="M372.95 325.35L375.4 320.65L377.85 325.35Z" fill="#de3129"/>
<path d="M406.35 296.35L408.8 291.65L411.25 296.35Z" fill="#de3129"/>
<path d="M406.35 298.35L408.8 293.65L411.25 298.35Z" fill="#de3129"/>
<path d="M406.35 306.75L408.8 302.05L411.25 306.75Z" fill="#de3129"/>
<path d="M406.35 311.55L408.8 306.85L411.25 311.55Z" fill="#de3129"/>
<line x1="308.6" y1="310.7" x2="409.4" y2="302.5" stroke="#000" stroke-width="1.1" />
<line x1="308.6" y1="322.3" x2="409.4" y2="299.2" stroke="#de3129" stroke-width="1.1" />
<line x1="517.7" y1="298.9" x2="679.4" y2="298.9" stroke="#000" stroke-width="1" stroke-dasharray="1 2.35"/>
<line x1="514.5" y1="231.63" x2="514.5" y2="344.38" stroke="#000" stroke-width="1.45" />
<line x1="510" y1="231.76" x2="514.5" y2="231.76" stroke="#000" stroke-width="1.0" />
<text x="508.8" y="234.76" font-size="8.5" font-weight="bold" text-anchor="end" fill="#000" >0.3</text>
<line x1="510" y1="254.14" x2="514.5" y2="254.14" stroke="#000" stroke-width="1.0" />
<text x="508.8" y="257.14" font-size="8.5" font-weight="bold" text-anchor="end" fill="#000" >0.2</text>
<line x1="510" y1="276.52" x2="514.5" y2="276.52" stroke="#000" stroke-width="1.0" />
<text x="508.8" y="279.52" font-size="8.5" font-weight="bold" text-anchor="end" fill="#000" >0.1</text>
<line x1="510" y1="298.9" x2="514.5" y2="298.9" stroke="#000" stroke-width="1.0" />
<text x="508.8" y="301.9" font-size="8.5" font-weight="bold" text-anchor="end" fill="#000" >0.0</text>
<line x1="510" y1="321.28" x2="514.5" y2="321.28" stroke="#000" stroke-width="1.0" />
<text x="508.8" y="324.28" font-size="8.5" font-weight="bold" text-anchor="end" fill="#000" >-0.1</text>
<line x1="510" y1="343.66" x2="514.5" y2="343.66" stroke="#000" stroke-width="1.0" />
<text x="508.8" y="346.66" font-size="8.5" font-weight="bold" text-anchor="end" fill="#000" >-0.2</text>
<line x1="513.77" y1="343.66" x2="682.5" y2="343.66" stroke="#000" stroke-width="1.45" />
<line x1="514.8" y1="343.66" x2="514.8" y2="348.16" stroke="#000" stroke-width="1.0" />
<text x="514.8" y="357.8" font-size="8.5" font-weight="bold" text-anchor="middle" fill="#000" >-4</text>
<line x1="548.3" y1="343.66" x2="548.3" y2="348.16" stroke="#000" stroke-width="1.0" />
<text x="548.3" y="357.8" font-size="8.5" font-weight="bold" text-anchor="middle" fill="#000" >-2</text>
<line x1="581.8" y1="343.66" x2="581.8" y2="348.16" stroke="#000" stroke-width="1.0" />
<text x="581.8" y="357.8" font-size="8.5" font-weight="bold" text-anchor="middle" fill="#000" >0</text>
<line x1="615.3" y1="343.66" x2="615.3" y2="348.16" stroke="#000" stroke-width="1.0" />
<text x="615.3" y="357.8" font-size="8.5" font-weight="bold" text-anchor="middle" fill="#000" >2</text>
<line x1="648.8" y1="343.66" x2="648.8" y2="348.16" stroke="#000" stroke-width="1.0" />
<text x="648.8" y="357.8" font-size="8.5" font-weight="bold" text-anchor="middle" fill="#000" >4</text>
<line x1="682.3" y1="343.66" x2="682.3" y2="348.16" stroke="#000" stroke-width="1.0" />
<text x="682.3" y="357.8" font-size="8.5" font-weight="bold" text-anchor="middle" fill="#000" >6</text>
<text transform="translate(489.9,287.6) rotate(-90)" x="0" y="0" font-size="9" font-weight="bold" text-anchor="middle" textLength="145.4" lengthAdjust="spacingAndGlyphs">Change of functional connectivity</text>
<text x="598.3" y="371.2" font-size="9.3" font-weight="bold" text-anchor="middle" fill="#000" textLength="120.7" lengthAdjust="spacingAndGlyphs" >Change of subjective stress</text>
<text x="597.9" y="218.4" font-size="10.5" font-weight="bold" text-anchor="middle" fill="#000" textLength="138.6" lengthAdjust="spacingAndGlyphs" >Stress Run 2 - Stress Run 1</text>
<text x="523.1" y="234.8" font-size="8.2" font-weight="normal" text-anchor="start" fill="#7f7f7f" textLength="37.2" lengthAdjust="spacingAndGlyphs"  stroke="#7f7f7f" stroke-width="0.15">*r=0.412,</text>
<text x="571.3" y="234.8" font-size="8.2" font-weight="normal" text-anchor="start" fill="#7f7f7f" textLength="31.1" lengthAdjust="spacingAndGlyphs"  stroke="#7f7f7f" stroke-width="0.15">p=0.033</text>
<text x="523.1" y="244.3" font-size="8.2" font-weight="normal" text-anchor="start" fill="#e05a62" textLength="45.3" lengthAdjust="spacingAndGlyphs"  stroke="#e05a62" stroke-width="0.15">**r=-0.560,</text>
<text x="573.8" y="244.3" font-size="8.2" font-weight="normal" text-anchor="start" fill="#e05a62" textLength="30.6" lengthAdjust="spacingAndGlyphs"  stroke="#e05a62" stroke-width="0.15">p=0.003</text>
<circle cx="531.55" cy="312.8" r="2.4" fill="#7f7f7f"/>
<circle cx="531.55" cy="335.1" r="2.4" fill="#7f7f7f"/>
<circle cx="548.3" cy="299.2" r="2.4" fill="#7f7f7f"/>
<circle cx="565.05" cy="292.8" r="2.4" fill="#7f7f7f"/>
<circle cx="565.05" cy="298" r="2.4" fill="#7f7f7f"/>
<circle cx="565.05" cy="302.5" r="2.4" fill="#7f7f7f"/>
<circle cx="565.05" cy="308.3" r="2.4" fill="#7f7f7f"/>
<circle cx="565.05" cy="313.6" r="2.4" fill="#7f7f7f"/>
<circle cx="565.05" cy="316.5" r="2.4" fill="#7f7f7f"/>
<circle cx="565.05" cy="336.8" r="2.4" fill="#7f7f7f"/>
<circle cx="581.8" cy="267.5" r="2.4" fill="#7f7f7f"/>
<circle cx="581.8" cy="276.4" r="2.4" fill="#7f7f7f"/>
<circle cx="581.8" cy="280.7" r="2.4" fill="#7f7f7f"/>
<circle cx="581.8" cy="285.5" r="2.4" fill="#7f7f7f"/>
<circle cx="581.8" cy="288.4" r="2.4" fill="#7f7f7f"/>
<circle cx="581.8" cy="304.7" r="2.4" fill="#7f7f7f"/>
<circle cx="581.8" cy="312.8" r="2.4" fill="#7f7f7f"/>
<circle cx="581.8" cy="316" r="2.4" fill="#7f7f7f"/>
<circle cx="598.55" cy="262.5" r="2.4" fill="#7f7f7f"/>
<circle cx="598.55" cy="285.5" r="2.4" fill="#7f7f7f"/>
<circle cx="598.55" cy="294.4" r="2.4" fill="#7f7f7f"/>
<circle cx="598.55" cy="296.8" r="2.4" fill="#7f7f7f"/>
<circle cx="598.55" cy="313.5" r="2.4" fill="#7f7f7f"/>
<circle cx="598.55" cy="316.7" r="2.4" fill="#7f7f7f"/>
<path d="M562.6 269.15L565.05 264.45L567.5 269.15Z" fill="#e4707a"/>
<path d="M562.6 275.15L565.05 270.45L567.5 275.15Z" fill="#e4707a"/>
<path d="M562.6 290.75L565.05 286.05L567.5 290.75Z" fill="#e4707a"/>
<path d="M579.35 277.05L581.8 272.35L584.25 277.05Z" fill="#e4707a"/>
<path d="M579.35 279.25L581.8 274.55L584.25 279.25Z" fill="#e4707a"/>
<path d="M579.35 283.55L581.8 278.85L584.25 283.55Z" fill="#e4707a"/>
<path d="M579.35 288.35L581.8 283.65L584.25 288.35Z" fill="#e4707a"/>
<path d="M579.35 291.15L581.8 286.45L584.25 291.15Z" fill="#e4707a"/>
<path d="M579.35 293.55L581.8 288.85L584.25 293.55Z" fill="#e4707a"/>
<path d="M579.35 296.75L581.8 292.05L584.25 296.75Z" fill="#e4707a"/>
<path d="M579.35 305.15L581.8 300.45L584.25 305.15Z" fill="#e4707a"/>
<path d="M596.1 252.15L598.55 247.45L601 252.15Z" fill="#e4707a"/>
<path d="M596.1 284.05L598.55 279.35L601 284.05Z" fill="#e4707a"/>
<path d="M596.1 297.95L598.55 293.25L601 297.95Z" fill="#e4707a"/>
<path d="M596.1 300.35L598.55 295.65L601 300.35Z" fill="#e4707a"/>
<path d="M596.1 311.15L598.55 306.45L601 311.15Z" fill="#e4707a"/>
<path d="M596.1 320.65L598.55 315.95L601 320.65Z" fill="#e4707a"/>
<path d="M612.85 287.15L615.3 282.45L617.75 287.15Z" fill="#e4707a"/>
<path d="M612.85 315.85L615.3 311.15L617.75 315.85Z" fill="#e4707a"/>
<path d="M629.6 312.75L632.05 308.05L634.5 312.75Z" fill="#e4707a"/>
<path d="M646.35 322.35L648.8 317.65L651.25 322.35Z" fill="#e4707a"/>
<line x1="531.5" y1="318.3" x2="598.6" y2="292" stroke="#7f7f7f" stroke-width="1.1" />
<line x1="565" y1="279.3" x2="649" y2="316.4" stroke="#e4707a" stroke-width="1.1" />
<rect x="146.65" y="394.45" width="402.5" height="19.8" fill="none" stroke="#000" stroke-width="2.3"/>
<rect x="151.7" y="401.1" width="18.2" height="7.8" fill="#000"/>
<text x="182.3" y="408.5" font-size="10.0" font-weight="bold" text-anchor="start" fill="#000" textLength="45" lengthAdjust="spacingAndGlyphs" >PLC of HC</text>
<rect x="254.4" y="401.1" width="18" height="7.8" fill="#7f7f7f"/>
<text x="283.5" y="408.5" font-size="10.0" font-weight="bold" text-anchor="start" fill="#000" textLength="46" lengthAdjust="spacingAndGlyphs" >OXT of HC</text>
<rect x="356" y="401.1" width="18.4" height="7.8" fill="#de3129"/>
<text x="386.6" y="408.5" font-size="10.0" font-weight="bold" text-anchor="start" fill="#000" textLength="52.9" lengthAdjust="spacingAndGlyphs" >PLC of SMO</text>
<rect x="464.3" y="401.1" width="18" height="7.8" fill="#e4707a"/>
<text x="491.6" y="408.5" font-size="10.0" font-weight="bold" text-anchor="start" fill="#000" textLength="53.9" lengthAdjust="spacingAndGlyphs" >OXT of SMO</text>
</g></svg>
</body></html>
